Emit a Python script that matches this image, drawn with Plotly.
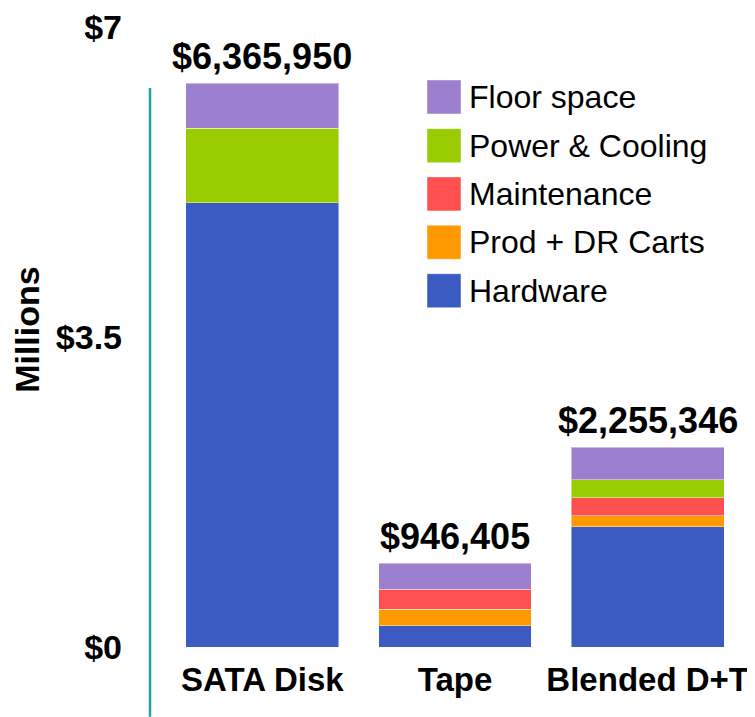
import plotly.graph_objects as go

# ---- data (values in $ millions) ----
categories = ["SATA Disk", "Tape", "Blended D+T"]
totals = [6365950, 946405, 2255346]
series_names = ["Hardware", "Prod + DR Carts", "Maintenance", "Power & Cooling", "Floor space"]
hardware = [5.018, 0.242, 1.360]
prod_dr_carts = [None, 0.187, 0.122]
maintenance = [None, 0.224, 0.204]
power_cooling = [0.840, None, 0.200]
floor_space = [0.508, 0.294, 0.369]
y_tickvals = [0, 3.5, 7]
y_ticktext = ["$0", "$3.5", "$7"]
y_title = "Millions"

colors = ["#3B5BC3", "#FF9900", "#FF5050", "#99CC00", "#9D7FD0"]
series_values = [hardware, prod_dr_carts, maintenance, power_cooling, floor_space]

# the page body adds an 8px margin, so the figure is 8px smaller than the window
OFF = 8
W, H = 755 - OFF, 717 - OFF
# plot area in window pixels
PL, PR, PT, PB = 166, 744, 27, 647.3
L, R, T, B = PL - OFF, W - (PR - OFF), PT - OFF, H - (PB - OFF)
PW, PH = PR - PL, PB - PT


def px_x(p):
    return (p - PL) / PW


def px_y(p):
    return (PB - p) / PH


FONT = "Liberation Sans, Arial, sans-serif"

fig = go.Figure()
for name, vals, col in zip(series_names, series_values, colors):
    fig.add_trace(go.Bar(
        x=categories, y=vals, name=name,
        marker=dict(color=col, line=dict(color="rgba(255,255,255,0.45)", width=1)),
        showlegend=False,
    ))

# total labels above bars
for cat, tot in zip(categories, totals):
    fig.add_annotation(
        x=cat, y=tot / 1e6, xref="x", yref="y",
        text=f"${tot:,.0f}", showarrow=False,
        yanchor="bottom", yshift=4,
        font=dict(family=FONT, size=36, color="black", weight="bold"),
    )

# custom legend (top entry first)
row_centers = [97, 145.7, 194, 242.3, 290.8]
for i, (name, col) in enumerate(reversed(list(zip(series_names, colors)))):
    yc = row_centers[i]
    fig.add_shape(
        type="rect", xref="paper", yref="paper",
        x0=px_x(427), x1=px_x(461), y0=px_y(yc + 17), y1=px_y(yc - 17),
        fillcolor=col, line=dict(color="rgba(255,255,255,0.45)", width=1),
    )
    fig.add_annotation(
        x=px_x(467), y=px_y(yc), xref="paper", yref="paper",
        text=name, showarrow=False, xanchor="left", yanchor="middle",
        font=dict(family=FONT, size=32, color="black"),
    )

# axis line
fig.add_shape(
    type="line", xref="paper", yref="paper",
    x0=px_x(150), x1=px_x(150), y0=px_y(88), y1=px_y(717),
    line=dict(color="#1FA3A3", width=2.5),
)

# y title
fig.add_annotation(
    x=px_x(27), y=px_y(330), xref="paper", yref="paper",
    text=y_title, showarrow=False, textangle=-90,
    xanchor="center", yanchor="middle",
    font=dict(family=FONT, size=34, color="black", weight="bold"),
)

fig.update_layout(
    width=W, height=H,
    margin=dict(l=L, r=R, t=T, b=B, pad=0, autoexpand=False),
    barmode="stack", bargap=0.206,
    plot_bgcolor="white", paper_bgcolor="white",
    xaxis=dict(
        showline=False, showgrid=False, zeroline=False, ticks="",
        tickfont=dict(family=FONT, size=33, color="black", weight="bold"),
        ticklabelstandoff=10, automargin=False, ticklabeloverflow="allow",
    ),
    yaxis=dict(
        range=[0, 7], tickvals=y_tickvals, ticktext=y_ticktext,
        showline=False, showgrid=False, zeroline=False, ticks="",
        tickfont=dict(family=FONT, size=34, color="black", weight="bold"),
        ticklabelstandoff=43, automargin=False, ticklabeloverflow="allow",
    ),
)

fig.write_html("out.html")
